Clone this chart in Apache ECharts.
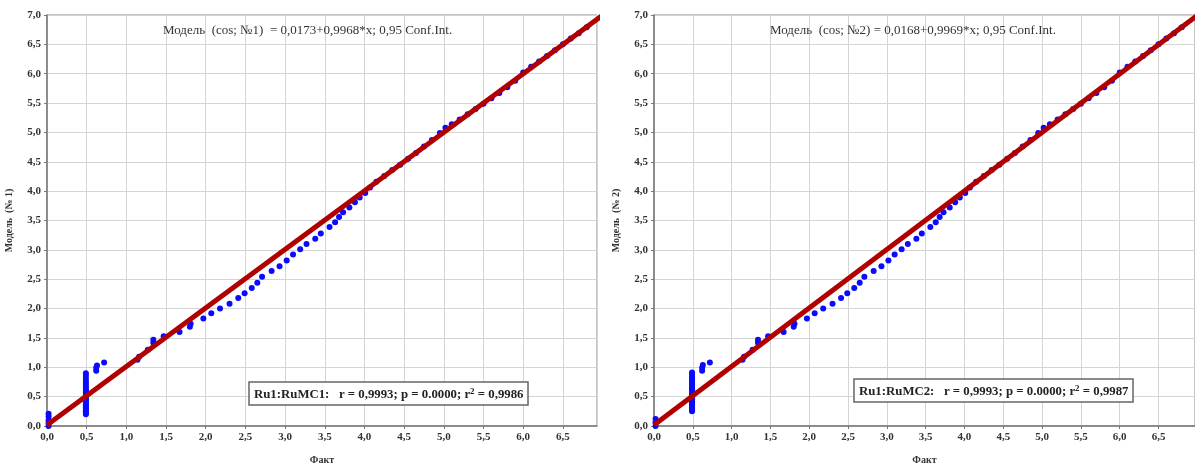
<!DOCTYPE html>
<html>
<head>
<meta charset="utf-8">
<script src="https://cdn.jsdelivr.net/npm/echarts@6/dist/echarts.min.js"></script>
<style>
  html, body { margin: 0; padding: 0; background: #fff; }
  #chart { width: 1195px; height: 470px; }
</style>
</head>
<body>
<div id="chart"></div>
<script>
// Observed (Факт) vs model values, panel 1
const fact1 = [
  0.02, 0.02, 0.02, 0.02, 0.02,
  0.49, 0.49, 0.49, 0.49, 0.49,
  0.49, 0.49, 0.49, 0.49, 0.49,
  0.49, 0.49, 0.49, 0.49, 0.49,
  0.49, 0.49, 0.49, 0.49, 0.49,
  0.49, 0.49, 0.49, 0.49, 0.49,
  0.62, 0.62, 0.63, 0.72, 1.14, 1.16, 1.27, 1.34, 1.34, 1.47, 1.67, 1.8, 1.81,
  1.97, 2.07, 2.18, 2.3, 2.41, 2.49, 2.58, 2.65, 2.71, 2.83, 2.93, 3.02, 3.1, 3.19, 3.27, 3.38, 3.45, 3.56, 3.63, 3.68, 3.73, 3.81, 3.88, 3.94, 4.01, 4.07,
  4.15, 4.25, 4.35, 4.45, 4.55, 4.65, 4.75, 4.85, 4.95, 5.02, 5.1, 5.2, 5.3, 5.4, 5.5, 5.6, 5.7, 5.8, 5.9, 6.0, 6.1, 6.2, 6.3, 6.4, 6.5, 6.6, 6.7, 6.8];
const model1 = [
  0.0, 0.05, 0.1, 0.16, 0.21,
  0.2, 0.22, 0.25, 0.27, 0.3,
  0.32, 0.35, 0.37, 0.4, 0.42,
  0.45, 0.47, 0.5, 0.52, 0.55,
  0.57, 0.6, 0.62, 0.65, 0.68,
  0.72, 0.76, 0.8, 0.85, 0.9,
  0.94, 0.99, 1.03, 1.08, 1.13, 1.18, 1.3, 1.42, 1.47, 1.53, 1.6, 1.69, 1.74,
  1.83, 1.92, 2.0, 2.08, 2.18, 2.26, 2.35, 2.44, 2.54, 2.64, 2.72, 2.82, 2.92, 3.01, 3.1, 3.19, 3.28, 3.39, 3.47, 3.56, 3.64, 3.72, 3.81, 3.89, 3.97, 4.06,
  4.16, 4.26, 4.36, 4.45, 4.55, 4.65, 4.76, 4.87, 4.99, 5.08, 5.14, 5.22, 5.31, 5.4, 5.49, 5.58, 5.67, 5.77, 5.88, 6.02, 6.12, 6.21, 6.3, 6.4, 6.5, 6.6, 6.69, 6.79];

// Observed (Факт) vs model values, panel 2
const fact2 = [
  0.02, 0.02, 0.02,
  0.49, 0.49, 0.49, 0.49, 0.49,
  0.49, 0.49, 0.49, 0.49, 0.49,
  0.49, 0.49, 0.49, 0.49, 0.49,
  0.49, 0.49, 0.49, 0.49, 0.49,
  0.49, 0.49, 0.49, 0.49, 0.49,
  0.62, 0.62, 0.63, 0.72, 1.14, 1.16, 1.27, 1.34, 1.34, 1.47, 1.67, 1.8, 1.81,
  1.97, 2.07, 2.18, 2.3, 2.41, 2.49, 2.58, 2.65, 2.71, 2.83, 2.93, 3.02, 3.1, 3.19, 3.27, 3.38, 3.45, 3.56, 3.63, 3.68, 3.73, 3.81, 3.88, 3.94, 4.01, 4.07,
  4.15, 4.25, 4.35, 4.45, 4.55, 4.65, 4.75, 4.85, 4.95, 5.02, 5.1, 5.2, 5.3, 5.4, 5.5, 5.6, 5.7, 5.8, 5.9, 6.0, 6.1, 6.2, 6.3, 6.4, 6.5, 6.6, 6.7, 6.8];
const model2 = [
  0.0, 0.06, 0.12,
  0.25, 0.27, 0.3, 0.32, 0.35,
  0.37, 0.4, 0.42, 0.45, 0.47,
  0.5, 0.52, 0.55, 0.57, 0.6,
  0.62, 0.65, 0.68, 0.71, 0.74,
  0.77, 0.8, 0.83, 0.87, 0.91,
  0.94, 0.99, 1.04, 1.08, 1.13, 1.18, 1.3, 1.42, 1.47, 1.53, 1.6, 1.69, 1.74,
  1.83, 1.92, 2.0, 2.08, 2.18, 2.26, 2.35, 2.44, 2.54, 2.64, 2.72, 2.82, 2.92, 3.01, 3.1, 3.19, 3.28, 3.39, 3.47, 3.56, 3.64, 3.72, 3.81, 3.89, 3.97, 4.06,
  4.16, 4.26, 4.36, 4.45, 4.55, 4.65, 4.76, 4.87, 4.99, 5.08, 5.14, 5.22, 5.31, 5.4, 5.49, 5.58, 5.67, 5.77, 5.88, 6.02, 6.12, 6.21, 6.3, 6.4, 6.5, 6.6, 6.69, 6.79];

// Regression coefficients (intercept, slope) for each panel
const intercepts = [0.0173, 0.0168];
const slopes = [0.9968, 0.9969];
const fitRange = [0, 7];

const formulaTexts = [
  'Модель  (cos; №1)  = 0,0173+0,9968*x; 0,95 Conf.Int.',
  'Модель  (cos; №2) = 0,0168+0,9969*x; 0,95 Conf.Int.'
];
const statTexts = [
  'Ru1:RuMC1:   r = 0,9993; p = 0.0000; r{s|2} = 0,9986',
  'Ru1:RuMC2:   r = 0,9993; p = 0.0000; r{s|2} = 0,9987'
];
const yNames = ['Модель  (№ 1)', 'Модель  (№ 2)'];
const xName = 'Факт';

const serif = '"Liberation Serif", "DejaVu Serif", serif';
const fmt = v => v.toFixed(1).replace('.', ',');

function pairs(xs, ys) { return xs.map((x, i) => [x, ys[i]]); }
function fitLine(k) { return fitRange.map(x => [x, intercepts[k] + slopes[k] * x]); }

function xAxis(idx, max) {
  return {
    type: 'value', gridIndex: idx, min: 0, max: max, interval: 0.5,
    name: xName, nameLocation: 'middle', nameGap: 29,
    nameTextStyle: { fontFamily: serif, fontWeight: 'bold', fontSize: 10, color: '#333' },
    axisLine: { show: true, lineStyle: { color: '#777', width: 1.5 } },
    axisTick: { show: true, length: 3, lineStyle: { color: '#777' } },
    axisLabel: { formatter: fmt, fontFamily: serif, fontWeight: 'bold', fontSize: 11, color: '#333', margin: 6, showMaxLabel: false },
    splitLine: { show: true, lineStyle: { color: '#d4d4d4', width: 1 } }
  };
}
function yAxis(idx) {
  return {
    type: 'value', gridIndex: idx, min: 0, max: 7, interval: 0.5,
    name: yNames[idx], nameLocation: 'middle', nameGap: 33,
    nameTextStyle: { fontFamily: serif, fontWeight: 'bold', fontSize: 10, color: '#333' },
    axisLine: { show: true, lineStyle: { color: '#777', width: 1.5 } },
    axisTick: { show: true, length: 3, lineStyle: { color: '#777' } },
    axisLabel: { formatter: fmt, fontFamily: serif, fontWeight: 'bold', fontSize: 11, color: '#333', margin: 6 },
    splitLine: { show: true, lineStyle: { color: '#d4d4d4', width: 1 } }
  };
}

function statBox(k, left, top) {
  return {
    text: statTexts[k], left: left, top: top,
    padding: [5, 5, 4, 5],
    borderWidth: 1.5, borderColor: '#666', backgroundColor: '#fff',
    textStyle: {
      fontFamily: serif, fontWeight: 'bold', fontSize: 12.8, color: '#222',
      rich: { s: { fontFamily: serif, fontWeight: 'bold', fontSize: 9, verticalAlign: 'top', padding: [0, 0, 6, 0], color: '#222' } }
    }
  };
}

const chart = echarts.init(document.getElementById('chart'), null, { renderer: 'canvas' });
chart.setOption({
  animation: false,
  backgroundColor: '#fff',
  title: [
    { text: formulaTexts[0], left: 163, top: 24, padding: 0,
      textStyle: { fontFamily: serif, fontWeight: 'normal', fontSize: 13, color: '#333' } },
    { text: formulaTexts[1], left: 770, top: 24, padding: 0,
      textStyle: { fontFamily: serif, fontWeight: 'normal', fontSize: 13, color: '#333' } },
    statBox(0, 249, 382),
    statBox(1, 854, 379)
  ],
  grid: [
    { left: 47, top: 15, width: 550, height: 420, show: true, borderColor: '#888', borderWidth: 1 },
    { left: 654, top: 15, width: 541, height: 418, show: true, borderColor: '#888', borderWidth: 1 }
  ],
  xAxis: [xAxis(0, 6.93), xAxis(1, 6.97)],
  yAxis: [yAxis(0), yAxis(1)],
  series: [
    { type: 'scatter', xAxisIndex: 0, yAxisIndex: 0, data: pairs(fact1, model1),
      symbolSize: 6, itemStyle: { color: '#0a0aff', opacity: 1 }, z: 2 },
    { type: 'line', xAxisIndex: 0, yAxisIndex: 0, data: fitLine(0), showSymbol: false,
      lineStyle: { color: '#b00000', width: 5 }, z: 3 },
    { type: 'scatter', xAxisIndex: 1, yAxisIndex: 1, data: pairs(fact2, model2),
      symbolSize: 6, itemStyle: { color: '#0a0aff', opacity: 1 }, z: 2 },
    { type: 'line', xAxisIndex: 1, yAxisIndex: 1, data: fitLine(1), showSymbol: false,
      lineStyle: { color: '#b00000', width: 5 }, z: 3 }
  ]
});
</script>
</body>
</html>
